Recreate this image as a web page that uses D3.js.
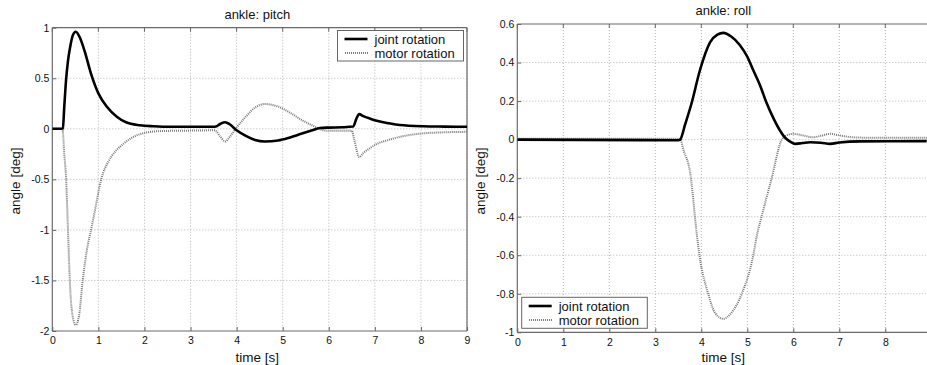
<!DOCTYPE html>
<html>
<head>
<meta charset="utf-8">
<script src="https://cdn.jsdelivr.net/npm/d3@7"></script>
<style>
html,body{margin:0;padding:0;background:#fff;}
svg{display:block;font-family:"Liberation Sans",Arial,sans-serif;}
</style>
</head>
<body>
<svg id="chart" width="927" height="365"></svg>
<script>
// ---------- data ----------
const pitchJointT = [0,0.2,0.23,0.26,0.3,0.34,0.38,0.45,0.51,0.6,0.7,0.85,1.0,1.18,1.4,1.6,1.9,2.2,2.6,3.0,3.5,3.55,3.65,3.75,3.85,4.0,4.2,4.4,4.61,4.9,5.16,5.4,5.66,5.81,6.0,6.3,6.53,6.6,6.66,6.75,6.9,7.04,7.3,7.54,8.05,8.5,9];
const pitchJointV = [0,0,0.005,0.22,0.49,0.67,0.79,0.93,0.96,0.9,0.77,0.53,0.35,0.22,0.12,0.065,0.035,0.025,0.02,0.02,0.02,0.022,0.05,0.065,0.045,-0.015,-0.07,-0.11,-0.125,-0.115,-0.085,-0.05,-0.013,0.008,0.012,0.015,0.022,0.1,0.145,0.125,0.1,0.08,0.055,0.037,0.025,0.022,0.02];
const pitchMotorT = [0,0.22,0.26,0.3,0.34,0.38,0.44,0.51,0.58,0.66,0.75,0.85,0.95,1.03,1.1,1.2,1.29,1.54,1.9,2.26,2.6,3.0,3.53,3.65,3.75,3.85,4.0,4.2,4.4,4.61,4.9,5.16,5.4,5.66,5.85,6.0,6.5,6.55,6.66,6.75,6.9,7.04,7.3,7.54,8.05,8.5,9];
const pitchMotorV = [0,0,-0.25,-0.5,-1.0,-1.5,-1.85,-1.94,-1.85,-1.5,-1.2,-0.98,-0.75,-0.56,-0.44,-0.34,-0.27,-0.15,-0.053,-0.025,-0.02,-0.018,-0.015,-0.08,-0.125,-0.08,0.013,0.12,0.21,0.245,0.22,0.16,0.09,0.03,-0.01,-0.02,-0.02,-0.1,-0.28,-0.24,-0.19,-0.15,-0.11,-0.08,-0.045,-0.035,-0.03];

const rollJointT = [0,3.5,3.54,3.65,3.79,3.97,4.19,4.35,4.48,4.65,4.84,5.0,5.13,5.28,5.42,5.57,5.71,5.82,5.93,6.05,6.2,6.37,6.6,6.8,7.0,7.45,8.9];
const rollJointV = [0,-0.003,0,0.08,0.19,0.36,0.505,0.545,0.554,0.535,0.49,0.43,0.36,0.28,0.19,0.11,0.047,0.01,-0.01,-0.022,-0.018,-0.014,-0.016,-0.022,-0.015,-0.009,-0.008];
const rollMotorT = [0,3.5,3.54,3.62,3.75,3.91,3.96,4.15,4.3,4.48,4.65,4.88,5.13,5.2,5.31,5.53,5.75,5.88,6.0,6.2,6.43,6.6,6.8,7.0,7.3,7.6,8.9];
const rollMotorV = [0.005,0.005,0.003,-0.06,-0.16,-0.507,-0.6,-0.8,-0.9,-0.93,-0.9,-0.8,-0.6,-0.507,-0.4,-0.2,0,0.025,0.03,0.022,0.012,0.02,0.03,0.022,0.012,0.01,0.01];

const pitchXTicks = [0,1,2,3,4,5,6,7,8,9];
const pitchYTicks = [-2,-1.5,-1,-0.5,0,0.5,1];
const rollXTicks = [0,1,2,3,4,5,6,7,8];
const rollYTicks = [-1,-0.8,-0.6,-0.4,-0.2,0,0.2,0.4,0.6];
const seriesNames = ["joint rotation","motor rotation"];

// ---------- drawing ----------
const svg = d3.select("#chart");
svg.append("rect").attr("width",927).attr("height",365).attr("fill","#fff");

function zip(t,v){return t.map((d,i)=>[d,v[i]]);}

function panel(o){
  const g = svg.append("g");
  const x = d3.scaleLinear().domain(o.xDom).range([o.left,o.right]);
  const y = d3.scaleLinear().domain(o.yDom).range([o.bottom,o.top]);
  const clipId = "clip"+o.id;
  svg.append("clipPath").attr("id",clipId).append("rect")
    .attr("x",o.left).attr("y",o.top).attr("width",o.right-o.left).attr("height",o.bottom-o.top);

  // grid
  const grid = g.append("g").attr("stroke","#b5b5b5").attr("stroke-width",1).attr("stroke-dasharray","1,2");
  o.xTicks.forEach(t=>{ if(t>o.xDom[0]) grid.append("line").attr("x1",x(t)).attr("x2",x(t)).attr("y1",o.top).attr("y2",o.bottom); });
  o.yTicks.forEach(t=>{ if(t>o.yDom[0] && t<o.yDom[1]) grid.append("line").attr("x1",o.left).attr("x2",o.right).attr("y1",y(t)).attr("y2",y(t)); });

  // axes
  const xa = g.append("g").attr("transform",`translate(0,${o.bottom})`)
    .call(d3.axisBottom(x).tickValues(o.xTicks).tickSize(-4).tickPadding(6).tickFormat(d3.format("d")));
  const ya = g.append("g").attr("transform",`translate(${o.left},0)`)
    .call(d3.axisLeft(y).tickValues(o.yTicks).tickSize(-4).tickPadding(3).tickFormat(d=>String(d)));
  [xa,ya].forEach(a=>{
    a.select(".domain").remove();
    a.selectAll(".tick line").attr("stroke","#666");
    a.selectAll(".tick text").attr("font-size",10.5).attr("fill","#111")
      .attr("font-family","'Liberation Sans',Arial,sans-serif");
  });
  // top ticks
  o.xTicks.forEach(t=>{ g.append("line").attr("x1",x(t)).attr("x2",x(t)).attr("y1",o.top).attr("y2",o.top+4).attr("stroke","#666"); });
  // frame
  const frame = g.append("g").attr("stroke","#6a6a6a").attr("stroke-width",1.2).attr("fill","none");
  frame.append("line").attr("x1",o.left).attr("x2",o.left).attr("y1",o.top).attr("y2",o.bottom);
  frame.append("line").attr("x1",o.left).attr("x2",o.right).attr("y1",o.bottom).attr("y2",o.bottom);
  frame.append("line").attr("x1",o.left).attr("x2",o.right).attr("y1",o.top).attr("y2",o.top);
  if(o.rightBorder) frame.append("line").attr("x1",o.right).attr("x2",o.right).attr("y1",o.top).attr("y2",o.bottom);

  const line = d3.line().x(d=>x(d[0])).y(d=>y(d[1])).curve(d3.curveMonotoneX);
  const lines = g.append("g").attr("clip-path",`url(#${clipId})`);
  lines.append("path").datum(zip(o.motorT,o.motorV)).attr("d",line)
    .attr("fill","none").attr("stroke","#7a7a7a").attr("stroke-width",2).attr("stroke-dasharray","1,1");
  lines.append("path").datum(zip(o.jointT,o.jointV)).attr("d",line)
    .attr("fill","none").attr("stroke","#000").attr("stroke-width",2.6).attr("stroke-linejoin","round");

  // title & labels
  g.append("text").attr("x",(o.left+o.titleCenter)).attr("y",o.top-9).attr("text-anchor","middle")
    .attr("font-size",13).attr("fill","#111").text(o.title);
  g.append("text").attr("x",o.titleCenter+o.left).attr("y",362).attr("text-anchor","middle")
    .attr("font-size",13.5).attr("fill","#111").text("time [s]");
  g.append("text").attr("transform",`translate(${o.ylabX},181) rotate(-90)`).attr("text-anchor","middle")
    .attr("dominant-baseline","central").attr("font-size",13.5).attr("fill","#111").text("angle [deg]");

  // legend
  const L = o.legend;
  const lg = g.append("g");
  lg.append("rect").attr("x",L.x).attr("y",L.y).attr("width",L.w).attr("height",L.h)
    .attr("fill","#fff").attr("stroke","#666").attr("stroke-width",1);
  const rows = [Math.round(L.y+L.h*0.29), Math.round(L.y+L.h*0.73)];
  lg.append("line").attr("x1",L.x+7).attr("x2",L.x+30).attr("y1",rows[0]).attr("y2",rows[0])
    .attr("stroke","#000").attr("stroke-width",2.6);
  lg.append("line").attr("x1",Math.round(L.x+7)).attr("x2",Math.round(L.x+30)).attr("y1",rows[1]).attr("y2",rows[1])
    .attr("stroke","#7a7a7a").attr("stroke-width",2).attr("stroke-dasharray","1,1");
  seriesNames.forEach((s,i)=>{
    lg.append("text").attr("x",L.x+37).attr("y",rows[i]).attr("dominant-baseline","central")
      .attr("font-size",13).attr("fill","#111").text(s);
  });
}

panel({id:"p",left:52.3,right:467,top:27.7,bottom:331,xDom:[0,9],yDom:[-2,1],
  xTicks:pitchXTicks,yTicks:pitchYTicks,jointT:pitchJointT,jointV:pitchJointV,
  motorT:pitchMotorT,motorV:pitchMotorV,title:"ankle: pitch",titleCenter:205,ylabX:15,rightBorder:true,
  legend:{x:337.5,y:30.5,w:126,h:30.5}});

panel({id:"r",left:517.3,right:927,top:24,bottom:332.3,xDom:[0,(927-517.3)/46],yDom:[-1,0.6],
  xTicks:rollXTicks,yTicks:rollYTicks,jointT:rollJointT,jointV:rollJointV,
  motorT:rollMotorT,motorV:rollMotorV,title:"ankle: roll",titleCenter:206,ylabX:480,rightBorder:false,
  legend:{x:521.7,y:297.3,w:125.6,h:31}});
</script>
</body>
</html>
